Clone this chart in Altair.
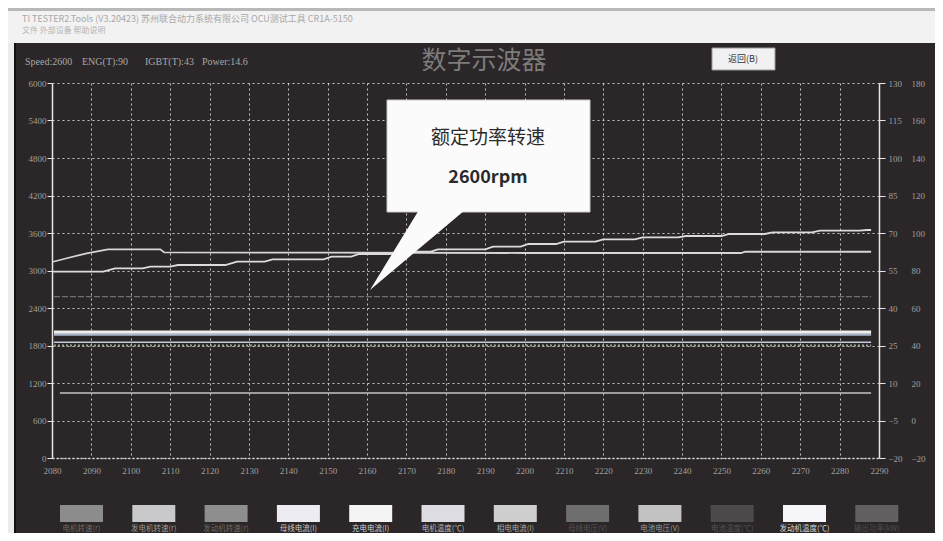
import altair as alt
import pandas as pd

# ---------------- data ----------------
x_ticks = list(range(2080, 2291, 10))
left_ticks = list(range(0, 6001, 600))
right_ticks_a = list(range(-20, 131, 15))
right_ticks_b = list(range(-20, 181, 20))

line_a_x = [2080.3, 2084, 2088.8, 2094.2, 2107.5, 2108.5, 2150, 2200, 2255, 2256, 2288]
line_a_y = [3140, 3200, 3275, 3339, 3339, 3290, 3285, 3280, 3280, 3300, 3300]

line_b_x = [2080.3, 2093, 2096, 2103, 2105, 2110, 2112, 2124, 2127, 2134, 2136, 2149, 2151,
            2156, 2158, 2166, 2168, 2176, 2178, 2190, 2192, 2199, 2201, 2208, 2210, 2218,
            2220, 2228, 2230, 2239, 2241, 2250, 2252, 2261, 2263, 2273, 2275, 2285, 2287, 2288]
line_b_y = [2981, 2981, 3035, 3035, 3061, 3061, 3088, 3088, 3141, 3141, 3179, 3179, 3221,
            3221, 3264, 3264, 3300, 3300, 3339, 3339, 3381, 3381, 3424, 3424, 3461, 3461,
            3499, 3499, 3531, 3531, 3552, 3552, 3584, 3584, 3611, 3611, 3637, 3637, 3648, 3648]

line_c_x = [2080.5, 2288]
line_c_y = [2581, 2581]

line_d1_x = [2080.5, 2288]
line_d1_y = [2015, 2015]
line_d2_x = [2080.5, 2288]
line_d2_y = [1972, 1972]
line_e1_x = [2080.5, 2288]
line_e1_y = [1852, 1852]
line_e2_x = [2080.5, 2288]
line_e2_y = [1800, 1800]
line_f_x = [2082, 2288]
line_f_y = [1040, 1040]

legend_labels = ["电机转速(r)", "发电机转速(r)", "发动机转速(r)", "母线电流(I)", "充电电流(I)",
                 "电机温度(℃)", "相电电流(I)", "母线电压(V)", "电池电压(V)", "电池温度(℃)",
                 "发动机温度(℃)", "输出功率(kW)"]
legend_colors = ["#8c8c8c", "#c9c9cb", "#8e8e8e", "#ececf2", "#f4f4f4", "#dcdce2",
                 "#cfcfd0", "#6e6e6e", "#c2c2c2", "#4c4a4a", "#f6f6fa", "#626060"]
legend_text_colors = ["#6a6a6a", "#9a9a9a", "#6a6a6a", "#c8c8c8", "#d0d0d0", "#b8b8b8",
                      "#a8a8a8", "#555555", "#9a9a9a", "#555555", "#d6d6d6", "#4e4e4e"]

header_items = ["Speed:2600", "ENG(T):90", "IGBT(T):43", "Power:14.6"]

# ---------------- styling ----------------
W, H = 827, 375
OX, OY = 52, 83  # page position of plot origin
BG = "#2b2627"
GRID = "#d8d8d8"
LABEL = "#a0a0a0"
SERIF = "Liberation Serif"
CJK = "Noto Sans CJK SC"


def P(x):
    return x - OX


def Q(y):
    return y - OY


series = [
    ("A", line_a_x, line_a_y),
    ("B", line_b_x, line_b_y),
    ("C", line_c_x, line_c_y),
    ("D1", line_d1_x, line_d1_y),
    ("D2", line_d2_x, line_d2_y),
    ("E1", line_e1_x, line_e1_y),
    ("E2", line_e2_x, line_e2_y),
    ("F", line_f_x, line_f_y),
]
rows = []
for name, xs, ys in series:
    for i, (a, b) in enumerate(zip(xs, ys)):
        rows.append({"s": name, "x": a, "y": b, "o": i})
df = pd.DataFrame(rows)

xenc = alt.X("x:Q", scale=alt.Scale(domain=[2080, 2290], nice=False, zero=False),
             axis=alt.Axis(values=x_ticks, format="d", grid=True, gridColor=GRID,
                           gridDash=[2, 3], gridOpacity=0.9, ticks=False,
                           domainColor=GRID, domainDash=[2, 2], domainWidth=1.5,
                           labelColor=LABEL, labelFont=SERIF, labelFontSize=9,
                           labelPadding=8, labelFlush=False, title=None))
yenc = alt.Y("y:Q", scale=alt.Scale(domain=[0, 6000], nice=False, zero=False),
             axis=alt.Axis(values=left_ticks, format="d", grid=True, gridColor=GRID,
                           gridDash=[2, 3], gridOpacity=0.9, tickColor="#e6e6e6",
                           tickSize=5, domainColor="#e6e6e6", domainWidth=1.5,
                           labelColor=LABEL, labelFont=SERIF, labelFontSize=9,
                           labelPadding=1, title=None))

base = alt.Chart(df).encode(x=xenc, y=yenc, order="o:Q")


def line(name, color, width, dash=None, opacity=1.0):
    kw = dict(color=color, strokeWidth=width, opacity=opacity)
    if dash:
        kw["strokeDash"] = dash
    return base.transform_filter(alt.datum.s == name).mark_line(**kw)


lines = [
    line("C", "#8a8888", 1.2, dash=[6, 2], opacity=0.75),
    line("F", "#c4c4c4", 1.5),
    line("E2", "#9aa590", 2, dash=[2, 2]),
    line("E1", "#c2cadb", 1.5),
    line("D2", "#a9b6cc", 1.8),
    line("D1", "#eeeeee", 3.2),
    line("A", "#d6d6d6", 1.8),
    line("B", "#dcdcdc", 1.8),
]

one = pd.DataFrame({"a": [0]})


def rect(x1, x2, y1, y2, fill, stroke=None, sw=0):
    kw = dict(color=fill)
    if stroke:
        kw.update(stroke=stroke, strokeWidth=sw)
    return alt.Chart(one).mark_rect(**kw).encode(
        x=alt.value(P(x1)), x2=alt.value(P(x2)), y=alt.value(Q(y1)), y2=alt.value(Q(y2)))


def text(t, x, y, size, color, font=SERIF, align="left", weight="normal"):
    return alt.Chart(one).mark_text(text=t, fontSize=size, color=color, font=font,
                                    align=align, baseline="middle", fontWeight=weight).encode(
        x=alt.value(P(x)), y=alt.value(Q(y)))


# window chrome
chrome = [
    rect(8, 935, 8, 43, "#f2f2f2"),
    rect(8, 935, 8, 11, "#b8b8b8"),
    rect(8, 14, 43, 533, "#ececec"),
    rect(14, 16, 43, 533, "#111111"),
    text("TI TESTER2.Tools (V3.20423)   苏州联合动力系统有限公司 OCU测试工具   CR1A-5150",
         22, 19, 9, "#a8a8a8", font=CJK),
    text("文件   外部设备   帮助说明", 22, 31, 8, "#b4b4b4", font=CJK),
]

# header
header_x = [25, 82, 145, 202]
header = [text(t, hx, 62, 10, "#a8a8a8") for t, hx in zip(header_items, header_x)]
header += [
    text("数字示波器", 484, 61, 25, "#7e7b7b", font=CJK, align="center"),
    rect(712, 775, 48, 70, "#f1f1f3", stroke="#9a9a9a", sw=1),
    text("返回(B)", 743, 59, 9, "#333333", font=CJK, align="center"),
]

# callout bubble
tail_shape = "M -1.02 0.8 L 0.02 -0.9 L 1.0 -0.9 Z"
bubble = [
    rect(387, 590, 100, 212, "#fbfbfb", stroke="#c8c8c8", sw=1),
    alt.Chart(one).mark_point(shape=tail_shape, filled=True, color="#fbfbfb", opacity=1,
                              size=10000).encode(x=alt.value(P(421)), y=alt.value(Q(250))),
    text("额定功率转速", 488, 138, 19, "#2a2a2a", font=CJK, align="center"),
    text("2600rpm", 488, 178, 18, "#2a2a2a", font=CJK, align="center", weight="bold"),
]

# legend swatches
leg_df = pd.DataFrame({"i": list(range(len(legend_labels))), "label": legend_labels,
                       "c": legend_colors, "tc": legend_text_colors})
leg_base = alt.Chart(leg_df).transform_calculate(
    px=f"{P(60)} + datum.i * 72.3", px2=f"{P(60)} + 43 + datum.i * 72.3",
    pc=f"{P(60)} + 21.5 + datum.i * 72.3")
swatches = leg_base.mark_rect().encode(
    x=alt.X("px:Q", scale=None), x2="px2:Q",
    y=alt.value(Q(505)), y2=alt.value(Q(522)),
    color=alt.Color("c:N", scale=None))
swatch_text = leg_base.mark_text(fontSize=7.5, font=CJK, baseline="middle").encode(
    x=alt.X("pc:Q", scale=None), y=alt.value(Q(529)), text="label:N",
    color=alt.Color("tc:N", scale=None))

inner = alt.layer(*chrome, *header, *lines, *bubble, swatches, swatch_text)

# right axes
ra_df = pd.DataFrame({"r": [-20, 130]})
right_a = alt.Chart(ra_df).mark_point(opacity=0).encode(
    y=alt.Y("r:Q", scale=alt.Scale(domain=[-20, 130], nice=False, zero=False),
            axis=alt.Axis(orient="right", values=right_ticks_a, grid=False, tickSize=6,
                          tickColor="#e6e6e6", domainColor="#e6e6e6", domainWidth=1.5,
                          labelColor=LABEL, labelFont=SERIF, labelFontSize=9,
                          labelPadding=3, labelAlign="left", title=None)))
rb_df = pd.DataFrame({"q": [-20, 180]})
right_b = alt.Chart(rb_df).mark_point(opacity=0).encode(
    y=alt.Y("q:Q", scale=alt.Scale(domain=[-20, 180], nice=False, zero=False),
            axis=alt.Axis(orient="right", values=right_ticks_b, grid=False, ticks=False,
                          domain=False, offset=29, labelColor=LABEL, labelFont=SERIF,
                          labelFontSize=9, labelPadding=3, labelAlign="left", title=None)))

chart = alt.layer(inner, right_a, right_b).resolve_scale(y="independent").properties(
    width=W, height=H,
    padding={"left": 44, "top": 75, "right": 56, "bottom": 75},
    autosize=alt.AutoSizeParams(type="none"),
).configure(background=BG).configure_view(stroke=None)

chart.save("out.html", embed_options={"renderer": "svg", "actions": False})
